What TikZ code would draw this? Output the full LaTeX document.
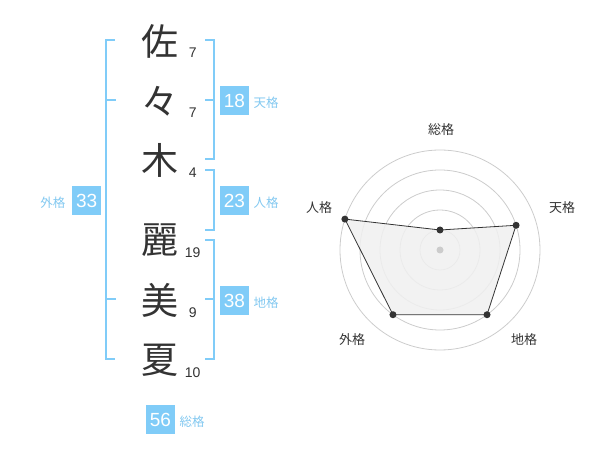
\documentclass[tikz,border=0pt]{standalone}
\usepackage{fontspec}
\usetikzlibrary{calc}
\setmainfont{Liberation Sans}
\newfontfamily\jp{Noto Sans CJK JP}
\definecolor{bl}{RGB}{128,204,248}
\definecolor{bltext}{RGB}{130,200,240}
\definecolor{dk}{RGB}{51,51,51}
\definecolor{ring}{RGB}{204,204,204}
\definecolor{area}{RGB}{240,240,240}
\tikzset{
  bigch/.style={inner sep=0pt, text=dk, font=\jp\fontsize{37}{37}\selectfont},
  num/.style={inner sep=0pt, text=dk, font=\fontsize{14}{14}\selectfont},
  vbox/.style={inner sep=0pt, minimum size=29pt, fill=bl, text=white, font=\fontsize{19}{19}\selectfont},
  lab/.style={inner sep=0pt, text=bltext, font=\jp\fontsize{12.5}{12.5}\selectfont},
  rlab/.style={inner sep=0pt, text=dk, font=\jp\fontsize{13}{13}\selectfont},
  brk/.style={draw=bl, line width=2pt},
  ringc/.style={draw=ring, line width=0.8pt},
  dot/.style={circle, fill=dk, inner sep=0pt, minimum size=7pt},
}
\begin{document}
\begin{tikzpicture}[x=1pt,y=-1pt]
\useasboundingbox (0,0) rectangle (600,470);
% name characters
\node[bigch] (c1) at (160,41) {佐};
\node[bigch] (c2) at (160,101) {々};
\node[bigch] (c3) at (160,160) {木};
\node[bigch] (c4) at (160,240) {麗};
\node[bigch] (c5) at (160,300) {美};
\node[bigch] (c6) at (160,360) {夏};
\node[num] (n1) at (192.7,53) {7};
\node[num] (n2) at (192.7,113) {7};
\node[num] (n3) at (192.7,173) {4};
\node[num] (n4) at (192.7,253) {19};
\node[num] (n5) at (192.7,313) {9};
\node[num] (n6) at (192.7,373) {10};
% left bracket (gaikaku)
\draw[brk] (115,40) -- (105.7,40) -- (105.7,359.3) -- (115,359.3);
\draw[brk] (105.7,100) -- (115.7,100);
\draw[brk] (105.7,299.3) -- (115.7,299.3);
% right brackets
\draw[brk] (205,40) -- (214.3,40) -- (214.3,159.3) -- (205,159.3);
\draw[brk] (214.3,100) -- (204.5,100);
\draw[brk] (205,170) -- (214.3,170) -- (214.3,230) -- (205,230);
\draw[brk] (205,240) -- (214.3,240) -- (214.3,359.3) -- (205,359.3);
\draw[brk] (214.3,299.3) -- (204.5,299.3);
% value boxes
\node[vbox] (b18) at (234.5,100.5) {18};
\node[lab, anchor=west] (l18) at (253.5,103) {天格};
\node[vbox] (b23) at (234.5,200.5) {23};
\node[lab, anchor=west] (l23) at (253.5,203) {人格};
\node[vbox] (b38) at (234.5,300.5) {38};
\node[lab, anchor=west] (l38) at (253.5,303) {地格};
\node[vbox] (b33) at (86.7,200.5) {33};
\node[lab, anchor=east] (l33) at (65.5,203) {外格};
\node[vbox] (b56) at (160.5,419.5) {56};
\node[lab, anchor=west] (l56) at (179.5,422) {総格};
% radar chart
\coordinate (o) at (440,250);
\foreach \r in {20,40,60,80,100} \draw[ringc] (o) circle (\r);
\coordinate (p1) at ($(o)+(-90:20)$);
\coordinate (p2) at ($(o)+(-18:80)$);
\coordinate (p3) at ($(o)+(54:80)$);
\coordinate (p4) at ($(o)+(126:80)$);
\coordinate (p5) at ($(o)+(198:100)$);
\fill[area, opacity=0.85] (p1) -- (p2) -- (p3) -- (p4) -- (p5) -- cycle;
\draw[dk, line width=0.8pt] (p1) -- (p2) -- (p3) -- (p4) -- (p5) -- cycle;
\node[circle, fill=ring, inner sep=0pt, minimum size=7pt] (oc) at (o) {};
\node[dot] (d1) at (p1) {};
\node[dot] (d2) at (p2) {};
\node[dot] (d3) at (p3) {};
\node[dot] (d4) at (p4) {};
\node[dot] (d5) at (p5) {};
\node[rlab] (r1) at (441,130) {総格};
\node[rlab] (r2) at (562,208) {天格};
\node[rlab] (r3) at (524,340) {地格};
\node[rlab] (r4) at (352,340) {外格};
\node[rlab] (r5) at (319,208) {人格};
\end{tikzpicture}
\end{document}
